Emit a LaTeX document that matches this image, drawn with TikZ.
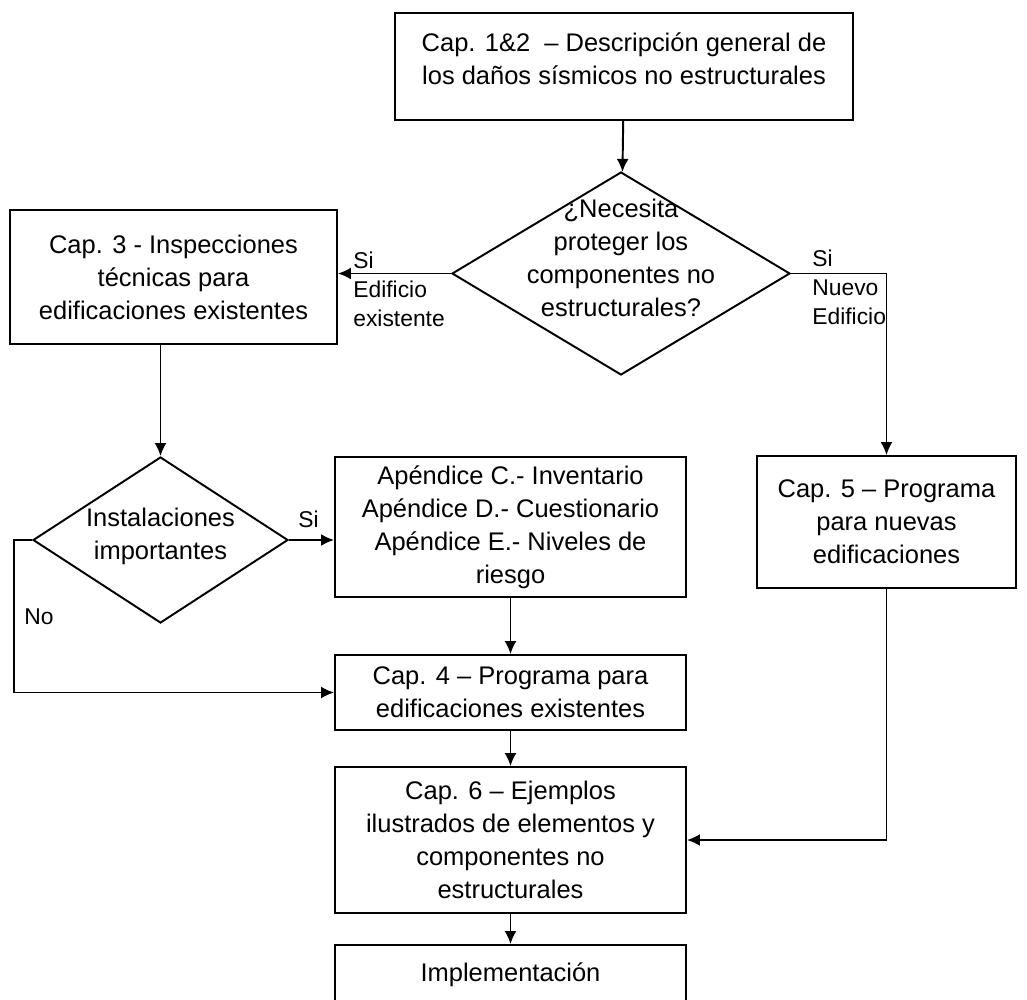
\documentclass[tikz,border=0pt]{standalone}
\usepackage{fontspec}
\setmainfont{Liberation Sans}
\usetikzlibrary{shapes.geometric,arrows.meta,calc}

\begin{document}
\begin{tikzpicture}[
    caja/.style={draw, line width=1.1pt, align=center, inner sep=0pt,
        font=\fontsize{14.5}{18.8}\selectfont},
    rombo/.style={draw, diamond, line width=1.1pt, inner sep=0pt},
    texto/.style={align=center, inner sep=0pt, font=\fontsize{14.5}{18.8}\selectfont},
    etiq/.style={align=left, inner sep=0pt, font=\fontsize{13}{16.5}\selectfont},
    flecha/.style={line width=1.1pt, -{Latex[length=2.6mm,width=2.4mm]}}
]
    \useasboundingbox (0,0) rectangle (20.54,-20);

    % Cajas
    \node[caja, minimum width=9.16cm, minimum height=2.14cm] (cap12) at (12.48,-1.33)
        {Cap. 1\&2 \ – Descripción general de\\los daños sísmicos no estructurales\\[-10pt]\mbox{}};
    \node[caja, minimum width=6.54cm, minimum height=2.68cm] (cap3) at (3.47,-5.54)
        {Cap. 3 - Inspecciones\\técnicas para\\edificaciones existentes};
    \node[caja, minimum width=7.02cm, minimum height=2.8cm] (apend) at (10.21,-10.54)
        {Apéndice C.- Inventario\\Apéndice D.- Cuestionario\\Apéndice E.- Niveles de\\riesgo};
    \node[caja, minimum width=7.02cm, minimum height=1.5cm] (cap4) at (10.21,-13.85)
        {Cap. 4 – Programa para\\edificaciones existentes};
    \node[caja, minimum width=7.02cm, minimum height=2.92cm] (cap6) at (10.21,-16.8)
        {Cap. 6 – Ejemplos\\ilustrados de elementos y\\componentes no\\estructurales};
    \node[caja, minimum width=7.02cm, minimum height=1.2cm] (impl) at (10.21,-19.5)
        {Implementación};
    \node[caja, minimum width=5.18cm, minimum height=2.64cm] (cap5) at (17.73,-10.44)
        {Cap. 5 – Programa\\para nuevas\\edificaciones};

    % Rombos de decision
    \node[rombo, minimum width=6.76cm, minimum height=4.06cm] (prot) at (12.42,-5.47) {};
    \node[texto] (prott) at (12.42,-5.16)
        {¿Necesita\\proteger los\\componentes no\\estructurales?};
    \node[rombo, minimum width=5.1cm, minimum height=3.32cm] (inst) at (3.21,-10.8) {};
    \node[texto] (instt) at (3.21,-10.73) {Instalaciones\\importantes};

    % Conexiones
    \draw[flecha] (cap12) -- (prot);
    \draw[flecha] (prot.west) -- (prot.west -| cap3.east);
    \draw[flecha] (prot.east) -| (cap5.north);
    \draw[flecha] (cap3.south -| inst.north) -- (inst.north);
    \draw[flecha] (inst.east) -- (inst.east -| apend.west);
    \draw[flecha] (inst.west) -- ++(-0.36,0) |- (cap4.west);
    \draw[flecha] (apend) -- (cap4);
    \draw[flecha] (cap4) -- (cap6);
    \draw[flecha] (cap5.south) |- (cap6.east);
    \draw[flecha] (cap6) -- (impl);

    % Etiquetas
    \node[etiq, anchor=north west] (si1) at (7.06,-5.04) {Si\\Edificio\\existente};
    \node[etiq, anchor=north west] (si2) at (16.24,-5.0) {Si\\Nuevo\\Edificio};
    \node[etiq, anchor=north west] (si3) at (5.96,-10.22) {Si};
    \node[etiq, anchor=north west] (no1) at (0.48,-12.16) {No};
\end{tikzpicture}
\end{document}
